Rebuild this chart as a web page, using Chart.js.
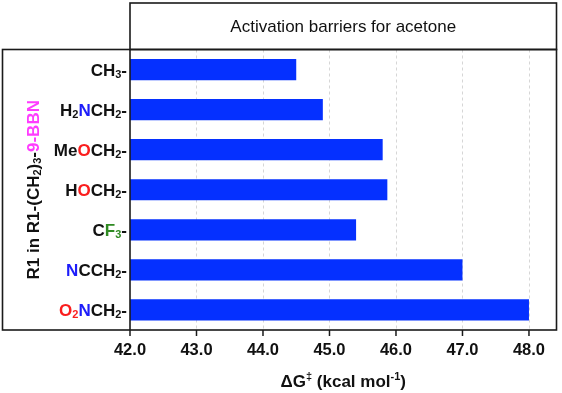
<!DOCTYPE html>
<html>
<head>
<meta charset="utf-8">
<script src="https://cdn.jsdelivr.net/npm/chart.js@4/dist/chart.umd.min.js"></script>
<style>
html,body{margin:0;padding:0;background:#fff;}
#wrap{width:562px;height:393px;position:relative;}
</style>
</head>
<body>
<div id="wrap"><canvas id="c" width="562" height="393"></canvas></div>
<script>
// ---- data ----
// markup: [x:...] coloured group (b blue, r red, g green, m magenta), _c subscript char, ^c superscript char
const categoryMarkup = ['CH_3-', 'H_2[b:N]CH_2-', 'Me[r:O]CH_2-', 'H[r:O]CH_2-', 'C[g:F_3]-', '[b:N]CCH_2-', '[r:O_2][b:N]CH_2-'];
const categories = ['CH3-', 'H2NCH2-', 'MeOCH2-', 'HOCH2-', 'CF3-', 'NCCH2-', 'O2NCH2-'];
const barrierValues = [44.5, 44.9, 45.8, 45.87, 45.4, 47.0, 48.0];
const xTickValues = [42, 43, 44, 45, 46, 47, 48];
const chartTitle = 'Activation barriers for acetone';
const xAxisTitle = '\u0394G^\u2021 (kcal mol^-^1)';
const yAxisTitle = 'R1 in R1-(CH_2)_3-[m:9-BBN]';

const COLORS = {k:'#111111', b:'#1d1dfa', r:'#fa1e1e', g:'#2f8a22', m:'#ff3cff'};
const FONT = '"Liberation Sans", Arial, Helvetica, sans-serif';

function parseMarkup(s){
  const segs=[]; let color='k'; let i=0;
  while(i<s.length){
    const ch=s[i];
    if(ch==='['){ color=s[i+1]; i+=3; continue; }
    if(ch===']'){ color='k'; i++; continue; }
    let mode='n', c=ch;
    if(ch==='_'||ch==='^'){ mode = ch==='_'?'sub':'sup'; c=s[i+1]; i+=2; } else i++;
    const last=segs[segs.length-1];
    if(last && last.color===color && last.mode===mode) last.text+=c;
    else segs.push({text:c,color,mode});
  }
  return segs;
}
function drawRich(ctx, markup, x, y, align, size, weight){
  const segs=parseMarkup(markup);
  const small=Math.round(size*0.64);
  segs.forEach(s=>{ s.fs = s.mode==='n'?size:small; ctx.font=`${weight} ${s.fs}px ${FONT}`; s.w=ctx.measureText(s.text).width; });
  const total=segs.reduce((a,s)=>a+s.w,0);
  let cx = align==='right'? x-total : (align==='center'? x-total/2 : x);
  ctx.textBaseline='alphabetic'; ctx.textAlign='left';
  segs.forEach(s=>{
    ctx.font=`${weight} ${s.fs}px ${FONT}`;
    ctx.fillStyle=COLORS[s.color];
    const dy = s.mode==='sub'? size*0.12 : (s.mode==='sup'? -size*0.36 : 0);
    ctx.fillText(s.text,cx,y+dy);
    cx+=s.w;
  });
}

const decor = {
  id:'decor',
  beforeDatasetsDraw(chart){
    const {ctx, chartArea:a, scales:{x}} = chart;
    ctx.save();
    ctx.strokeStyle='#d6d6d6'; ctx.lineWidth=1; ctx.setLineDash([3,3]);
    xTickValues.forEach(v=>{
      if(v===xTickValues[0]) return;
      const px=Math.round(x.getPixelForValue(v))+0.5;
      ctx.beginPath(); ctx.moveTo(px,a.top); ctx.lineTo(px,a.bottom); ctx.stroke();
    });
    ctx.restore();
  },
  afterDraw(chart){
    const {ctx, chartArea:a, scales:{x,y}} = chart;
    ctx.save();
    // tick marks
    ctx.strokeStyle='#1a1a1a'; ctx.lineWidth=1.5;
    xTickValues.forEach(v=>{
      const px=x.getPixelForValue(v);
      ctx.beginPath(); ctx.moveTo(px,a.bottom); ctx.lineTo(px,a.bottom+6); ctx.stroke();
    });
    // frames
    ctx.strokeStyle='#1a1a1a'; ctx.lineWidth=1.6;
    ctx.strokeRect(2.5, a.top, a.right-2.5, a.bottom-a.top);
    ctx.strokeRect(a.left, 3, a.right-a.left, a.top-3);
    ctx.beginPath(); ctx.moveTo(a.left,a.top); ctx.lineTo(a.left,a.bottom); ctx.stroke();
    // title
    ctx.fillStyle='#111'; ctx.font=`17px ${FONT}`; ctx.textAlign='center'; ctx.textBaseline='alphabetic';
    ctx.fillText(chartTitle,(a.left+a.right)/2,32);
    // y labels
    categoryMarkup.forEach((m,i)=>{
      const py=y.getPixelForTick(i);
      drawRich(ctx,m,127,py+6,'right',17,'bold');
    });
    // x title
    drawRich(ctx,xAxisTitle,(a.left+a.right)/2,386.5,'center',17,'bold');
    // y title
    ctx.save();
    ctx.translate(38.5,(a.top+a.bottom)/2);
    ctx.rotate(-Math.PI/2);
    drawRich(ctx,yAxisTitle,0,0,'center',17,'bold');
    ctx.restore();
    ctx.restore();
  }
};

new Chart(document.getElementById('c'),{
  type:'bar',
  data:{labels:categories,datasets:[{data:barrierValues,backgroundColor:'#0530ff',borderWidth:0,categoryPercentage:1,barPercentage:0.53}]},
  options:{
    indexAxis:'y', responsive:false, devicePixelRatio:1, animation:false,
    layout:{padding:{left:3,top:49.5,right:5.5,bottom:0}},
    plugins:{legend:{display:false},tooltip:{enabled:false},title:{display:false}},
    scales:{
      x:{type:'linear',min:42,max:48.414,
        afterBuildTicks:s=>{s.ticks=xTickValues.map(v=>({value:v}));},
        afterFit:s=>{s.height=63;},
        grid:{display:false},border:{display:false},
        ticks:{autoSkip:false,maxRotation:0,padding:3,color:'#111',font:{family:FONT,size:16.5,weight:'bold'},callback:v=>Number(v).toFixed(1)}},
      y:{afterFit:s=>{s.width=127;},grid:{display:false},border:{display:false},ticks:{display:false}}
    }
  },
  plugins:[decor]
});
</script>
</body>
</html>
